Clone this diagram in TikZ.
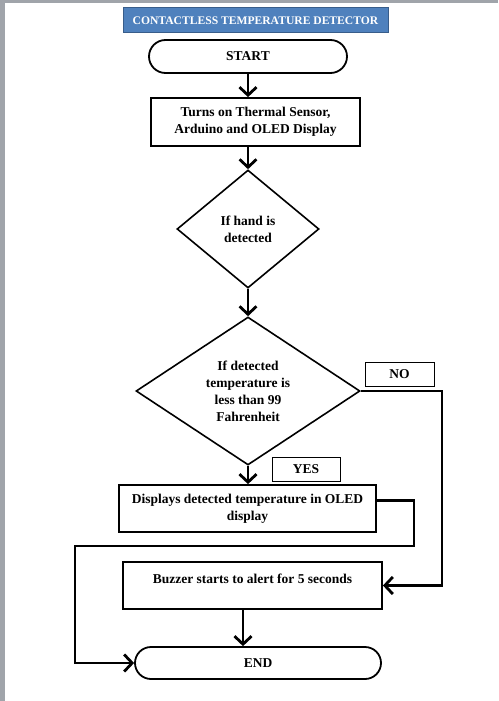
\documentclass[tikz,border=0pt]{standalone}
\usepackage{fontspec}
\setmainfont{Liberation Serif}
\usepackage{tikz}
\usetikzlibrary{positioning,shapes,arrows.meta}
\definecolor{titleblue}{RGB}{79,129,189}
\definecolor{titleedge}{RGB}{56,93,138}
\definecolor{pageframe}{RGB}{160,164,170}
\tikzstyle{banner}=[%
      rectangle, draw=titleedge, line width=1pt, fill=titleblue, text=white,
      font=\fontsize{11.6}{13}\selectfont\bfseries, inner sep=0pt
]
\tikzstyle{term}=[%
      rounded rectangle, draw=black, line width=1.8pt, fill=white,
      font=\fontsize{13.5}{17}\selectfont\bfseries, inner sep=0pt
]
\tikzstyle{proc}=[%
      rectangle, draw=black, line width=1.8pt, fill=white, align=center,
      font=\fontsize{13.5}{17}\selectfont\bfseries, inner sep=0pt
]
\tikzstyle{dec}=[%
      diamond, draw=black, line width=1.6pt, fill=white, align=center,
      font=\fontsize{13.5}{17}\selectfont\bfseries, inner sep=0pt
]
\tikzstyle{tag}=[%
      rectangle, draw=black, line width=0.7pt, fill=white,
      font=\fontsize{13.5}{15}\selectfont\bfseries, inner sep=0pt
]
\tikzstyle{flow}=[%
      line width=2.8pt, -{Straight Barb[length=8pt,width=17pt]}
]
\begin{document}
\begin{tikzpicture}[x=1pt, y=-1pt]
    \useasboundingbox (0,0) rectangle (498,701);
    \fill[pageframe] (0,0) rectangle (498,3);
    \fill[pageframe] (0,0) rectangle (4.5,701);

    \node[banner, minimum width=265, minimum height=25] (title) at (255.5,20.5) {CONTACTLESS TEMPERATURE DETECTOR};
    \node[term, minimum width=198, minimum height=33] (start) at (248,56.5) {START};
    \node[proc, minimum width=209, minimum height=48] (init) at (255.5,122) {Turns on Thermal Sensor,\\Arduino and OLED Display};
    \node[dec, shape aspect=1.2, minimum width=142, minimum height=118] (hand) at (248,229) {If hand is\\detected};
    \node[dec, shape aspect=1.5, minimum width=224, minimum height=148] (temp) at (248,391) {If detected\\temperature is\\less than 99\\Fahrenheit};
    \node[tag, minimum width=68, minimum height=24] (yes) at (306,469) {YES};
    \node[tag, minimum width=69, minimum height=24] (no) at (399.5,374) {NO};
    \node[proc, minimum width=257, minimum height=47] (show) at (247.5,508.5) {Displays detected temperature in OLED\\display};
    \node[proc, minimum width=259, minimum height=47, text depth=13pt] (buzz) at (252.5,585.5) {Buzzer starts to alert for 5 seconds};
    \node[term, minimum width=246, minimum height=32] (end) at (258,663) {END};

    \coordinate (nocorner) at (442,391);
    \coordinate (loopR) at (414,546);
    \coordinate (loopL) at (75,546);

    \draw[flow] (start.south) -- (start.south |- init.north);
    \draw[flow] (hand.north |- init.south) -- (hand.north);
    \draw[flow] (hand.south) -- (temp.north);
    \draw[flow] (temp.south) -- (temp.south |- show.north);
    \draw[flow] (temp.east) -- (nocorner) |- (buzz.east);
    \draw[flow] ([yshift=8pt]show.east) -| (loopR) -- (loopL) |- (end.west);
    \draw[flow] ([xshift=-9.5pt]buzz.south) -- ([xshift=-9.5pt]buzz.south |- end.north);

  \end{tikzpicture}
\end{document}
